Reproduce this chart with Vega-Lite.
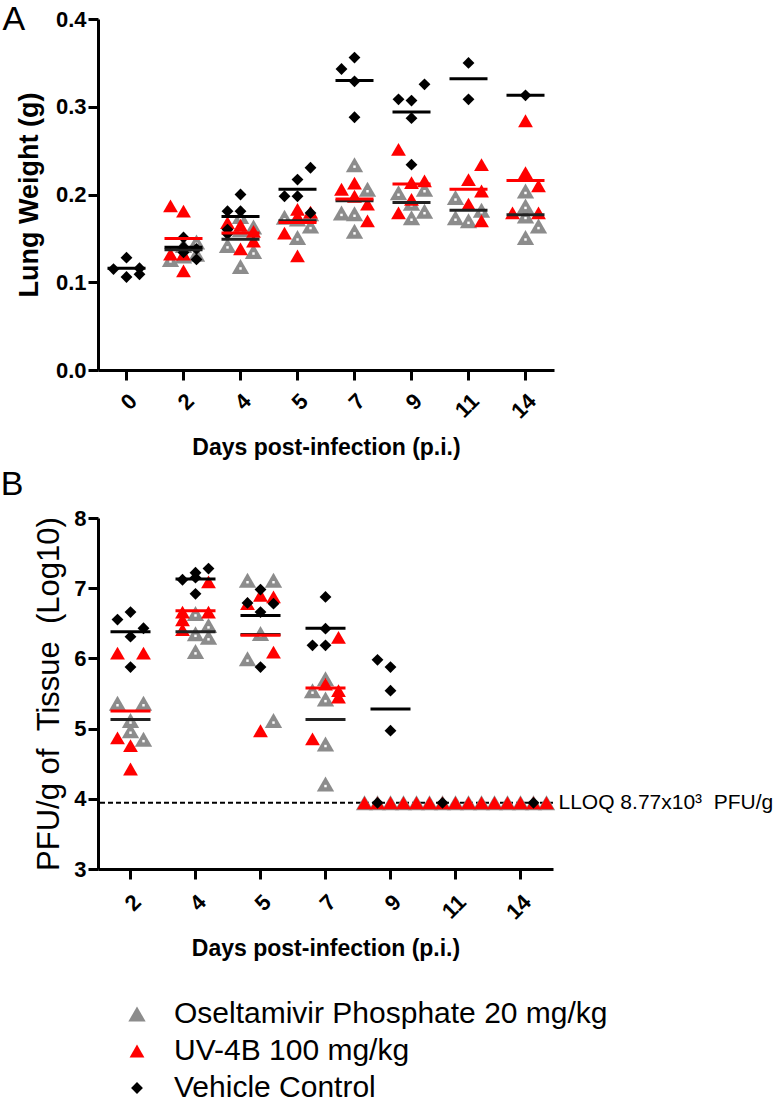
{
  "$schema": "https://vega.github.io/schema/vega-lite/v6.json",
  "background": "white",
  "padding": {"left": 0, "top": 3, "right": 5, "bottom": 5},
  "spacing": 8,
  "resolve": {"scale": {"x": "independent", "y": "independent", "xOffset": "independent"}},
  "config": {
    "view": {"stroke": null},
    "font": "Liberation Sans",
    "axis": {
      "grid": false, "domainColor": "#000", "domainWidth": 3, "tickColor": "#000", "tickWidth": 3, "tickSize": 10,
      "labelColor": "#000", "labelFont": "Liberation Sans", "labelFontSize": 22, "labelFontWeight": "bold", "labelPadding": 2,
      "titleFont": "Liberation Sans", "titleFontSize": 23, "titleFontWeight": "bold", "titleColor": "#000"
    },
    "legend": {
      "orient": "none", "legendX": 24, "legendY": 980, "direction": "vertical",
      "labelFont": "Liberation Sans", "labelFontSize": 30, "labelColor": "#000", "labelOffset": 22,
      "rowPadding": 7, "symbolStrokeWidth": 0, "labelLimit": 700
    }
  },
  "datasets": {
    "lung": [
      {"day": "2", "group": "Oseltamivir Phosphate 20 mg/kg", "rep": 2, "value": 0.126},
      {"day": "2", "group": "Oseltamivir Phosphate 20 mg/kg", "rep": 3, "value": 0.130},
      {"day": "2", "group": "Oseltamivir Phosphate 20 mg/kg", "rep": 4, "value": 0.132},
      {"day": "2", "group": "Oseltamivir Phosphate 20 mg/kg", "rep": 3, "value": 0.142},
      {"day": "2", "group": "Oseltamivir Phosphate 20 mg/kg", "rep": 4, "value": 0.146},
      {"day": "4", "group": "Oseltamivir Phosphate 20 mg/kg", "rep": 2, "value": 0.142},
      {"day": "4", "group": "Oseltamivir Phosphate 20 mg/kg", "rep": 3, "value": 0.118},
      {"day": "4", "group": "Oseltamivir Phosphate 20 mg/kg", "rep": 4, "value": 0.135},
      {"day": "4", "group": "Oseltamivir Phosphate 20 mg/kg", "rep": 4, "value": 0.163},
      {"day": "4", "group": "Oseltamivir Phosphate 20 mg/kg", "rep": 3, "value": 0.175},
      {"day": "4", "group": "Oseltamivir Phosphate 20 mg/kg", "rep": 3, "value": 0.160},
      {"day": "5", "group": "Oseltamivir Phosphate 20 mg/kg", "rep": 2, "value": 0.174},
      {"day": "5", "group": "Oseltamivir Phosphate 20 mg/kg", "rep": 3, "value": 0.151},
      {"day": "5", "group": "Oseltamivir Phosphate 20 mg/kg", "rep": 4, "value": 0.164},
      {"day": "5", "group": "Oseltamivir Phosphate 20 mg/kg", "rep": 3, "value": 0.172},
      {"day": "5", "group": "Oseltamivir Phosphate 20 mg/kg", "rep": 4, "value": 0.178},
      {"day": "7", "group": "Oseltamivir Phosphate 20 mg/kg", "rep": 3, "value": 0.234},
      {"day": "7", "group": "Oseltamivir Phosphate 20 mg/kg", "rep": 4, "value": 0.206},
      {"day": "7", "group": "Oseltamivir Phosphate 20 mg/kg", "rep": 2, "value": 0.179},
      {"day": "7", "group": "Oseltamivir Phosphate 20 mg/kg", "rep": 3, "value": 0.178},
      {"day": "7", "group": "Oseltamivir Phosphate 20 mg/kg", "rep": 3, "value": 0.158},
      {"day": "9", "group": "Oseltamivir Phosphate 20 mg/kg", "rep": 2, "value": 0.202},
      {"day": "9", "group": "Oseltamivir Phosphate 20 mg/kg", "rep": 4, "value": 0.206},
      {"day": "9", "group": "Oseltamivir Phosphate 20 mg/kg", "rep": 3, "value": 0.1735},
      {"day": "9", "group": "Oseltamivir Phosphate 20 mg/kg", "rep": 4, "value": 0.181},
      {"day": "9", "group": "Oseltamivir Phosphate 20 mg/kg", "rep": 3, "value": 0.190},
      {"day": "11", "group": "Oseltamivir Phosphate 20 mg/kg", "rep": 2, "value": 0.1965},
      {"day": "11", "group": "Oseltamivir Phosphate 20 mg/kg", "rep": 2, "value": 0.1735},
      {"day": "11", "group": "Oseltamivir Phosphate 20 mg/kg", "rep": 3, "value": 0.170},
      {"day": "11", "group": "Oseltamivir Phosphate 20 mg/kg", "rep": 4, "value": 0.182},
      {"day": "14", "group": "Oseltamivir Phosphate 20 mg/kg", "rep": 3, "value": 0.204},
      {"day": "14", "group": "Oseltamivir Phosphate 20 mg/kg", "rep": 3, "value": 0.187},
      {"day": "14", "group": "Oseltamivir Phosphate 20 mg/kg", "rep": 3, "value": 0.1755},
      {"day": "14", "group": "Oseltamivir Phosphate 20 mg/kg", "rep": 4, "value": 0.164},
      {"day": "14", "group": "Oseltamivir Phosphate 20 mg/kg", "rep": 3, "value": 0.151},
      {"day": "2", "group": "UV-4B 100 mg/kg", "rep": 2, "value": 0.187},
      {"day": "2", "group": "UV-4B 100 mg/kg", "rep": 3, "value": 0.181},
      {"day": "2", "group": "UV-4B 100 mg/kg", "rep": 2, "value": 0.132},
      {"day": "2", "group": "UV-4B 100 mg/kg", "rep": 3, "value": 0.113},
      {"day": "2", "group": "UV-4B 100 mg/kg", "rep": 3, "value": 0.132},
      {"day": "4", "group": "UV-4B 100 mg/kg", "rep": 2, "value": 0.168},
      {"day": "4", "group": "UV-4B 100 mg/kg", "rep": 4, "value": 0.158},
      {"day": "4", "group": "UV-4B 100 mg/kg", "rep": 3, "value": 0.138},
      {"day": "4", "group": "UV-4B 100 mg/kg", "rep": 4, "value": 0.147},
      {"day": "4", "group": "UV-4B 100 mg/kg", "rep": 3, "value": 0.165},
      {"day": "5", "group": "UV-4B 100 mg/kg", "rep": 3, "value": 0.183},
      {"day": "5", "group": "UV-4B 100 mg/kg", "rep": 4, "value": 0.180},
      {"day": "5", "group": "UV-4B 100 mg/kg", "rep": 3, "value": 0.175},
      {"day": "5", "group": "UV-4B 100 mg/kg", "rep": 2, "value": 0.156},
      {"day": "5", "group": "UV-4B 100 mg/kg", "rep": 3, "value": 0.130},
      {"day": "7", "group": "UV-4B 100 mg/kg", "rep": 2, "value": 0.206},
      {"day": "7", "group": "UV-4B 100 mg/kg", "rep": 3, "value": 0.213},
      {"day": "7", "group": "UV-4B 100 mg/kg", "rep": 3, "value": 0.198},
      {"day": "7", "group": "UV-4B 100 mg/kg", "rep": 4, "value": 0.189},
      {"day": "7", "group": "UV-4B 100 mg/kg", "rep": 4, "value": 0.170},
      {"day": "9", "group": "UV-4B 100 mg/kg", "rep": 2, "value": 0.2515},
      {"day": "9", "group": "UV-4B 100 mg/kg", "rep": 3, "value": 0.2135},
      {"day": "9", "group": "UV-4B 100 mg/kg", "rep": 4, "value": 0.2155},
      {"day": "9", "group": "UV-4B 100 mg/kg", "rep": 3, "value": 0.1945},
      {"day": "9", "group": "UV-4B 100 mg/kg", "rep": 2, "value": 0.179},
      {"day": "11", "group": "UV-4B 100 mg/kg", "rep": 4, "value": 0.234},
      {"day": "11", "group": "UV-4B 100 mg/kg", "rep": 3, "value": 0.217},
      {"day": "11", "group": "UV-4B 100 mg/kg", "rep": 4, "value": 0.204},
      {"day": "11", "group": "UV-4B 100 mg/kg", "rep": 3, "value": 0.189},
      {"day": "11", "group": "UV-4B 100 mg/kg", "rep": 4, "value": 0.170},
      {"day": "14", "group": "UV-4B 100 mg/kg", "rep": 3, "value": 0.284},
      {"day": "14", "group": "UV-4B 100 mg/kg", "rep": 3, "value": 0.225},
      {"day": "14", "group": "UV-4B 100 mg/kg", "rep": 4, "value": 0.210},
      {"day": "14", "group": "UV-4B 100 mg/kg", "rep": 2, "value": 0.179},
      {"day": "14", "group": "UV-4B 100 mg/kg", "rep": 4, "value": 0.179},
      {"day": "0", "group": "Vehicle Control", "rep": 2, "value": 0.115},
      {"day": "0", "group": "Vehicle Control", "rep": 3, "value": 0.128},
      {"day": "0", "group": "Vehicle Control", "rep": 3, "value": 0.106},
      {"day": "0", "group": "Vehicle Control", "rep": 4, "value": 0.116},
      {"day": "0", "group": "Vehicle Control", "rep": 4, "value": 0.109},
      {"day": "2", "group": "Vehicle Control", "rep": 3, "value": 0.151},
      {"day": "2", "group": "Vehicle Control", "rep": 3, "value": 0.140},
      {"day": "2", "group": "Vehicle Control", "rep": 4, "value": 0.138},
      {"day": "2", "group": "Vehicle Control", "rep": 4, "value": 0.126},
      {"day": "2", "group": "Vehicle Control", "rep": 3, "value": 0.134},
      {"day": "4", "group": "Vehicle Control", "rep": 3, "value": 0.200},
      {"day": "4", "group": "Vehicle Control", "rep": 2, "value": 0.181},
      {"day": "4", "group": "Vehicle Control", "rep": 3, "value": 0.181},
      {"day": "4", "group": "Vehicle Control", "rep": 2, "value": 0.160},
      {"day": "4", "group": "Vehicle Control", "rep": 2, "value": 0.155},
      {"day": "5", "group": "Vehicle Control", "rep": 4, "value": 0.2305},
      {"day": "5", "group": "Vehicle Control", "rep": 3, "value": 0.217},
      {"day": "5", "group": "Vehicle Control", "rep": 2, "value": 0.198},
      {"day": "5", "group": "Vehicle Control", "rep": 3, "value": 0.198},
      {"day": "5", "group": "Vehicle Control", "rep": 4, "value": 0.179},
      {"day": "7", "group": "Vehicle Control", "rep": 2, "value": 0.343},
      {"day": "7", "group": "Vehicle Control", "rep": 3, "value": 0.356},
      {"day": "7", "group": "Vehicle Control", "rep": 3, "value": 0.329},
      {"day": "7", "group": "Vehicle Control", "rep": 3, "value": 0.288},
      {"day": "9", "group": "Vehicle Control", "rep": 2, "value": 0.3085},
      {"day": "9", "group": "Vehicle Control", "rep": 3, "value": 0.307},
      {"day": "9", "group": "Vehicle Control", "rep": 4, "value": 0.3255},
      {"day": "9", "group": "Vehicle Control", "rep": 3, "value": 0.287},
      {"day": "9", "group": "Vehicle Control", "rep": 3, "value": 0.234},
      {"day": "11", "group": "Vehicle Control", "rep": 3, "value": 0.350},
      {"day": "11", "group": "Vehicle Control", "rep": 3, "value": 0.3085},
      {"day": "14", "group": "Vehicle Control", "rep": 3, "value": 0.313}
    ],
    "lungMean": [
      {"day": "0", "group": "Vehicle Control", "value": 0.116},
      {"day": "2", "group": "Oseltamivir Phosphate 20 mg/kg", "value": 0.137},
      {"day": "2", "group": "UV-4B 100 mg/kg", "value": 0.150},
      {"day": "2", "group": "Vehicle Control", "value": 0.140},
      {"day": "4", "group": "Oseltamivir Phosphate 20 mg/kg", "value": 0.149},
      {"day": "4", "group": "UV-4B 100 mg/kg", "value": 0.156},
      {"day": "4", "group": "Vehicle Control", "value": 0.175},
      {"day": "5", "group": "Oseltamivir Phosphate 20 mg/kg", "value": 0.170},
      {"day": "5", "group": "UV-4B 100 mg/kg", "value": 0.168},
      {"day": "5", "group": "Vehicle Control", "value": 0.206},
      {"day": "7", "group": "Oseltamivir Phosphate 20 mg/kg", "value": 0.193},
      {"day": "7", "group": "UV-4B 100 mg/kg", "value": 0.195},
      {"day": "7", "group": "Vehicle Control", "value": 0.330},
      {"day": "9", "group": "Oseltamivir Phosphate 20 mg/kg", "value": 0.191},
      {"day": "9", "group": "UV-4B 100 mg/kg", "value": 0.212},
      {"day": "9", "group": "Vehicle Control", "value": 0.294},
      {"day": "11", "group": "Oseltamivir Phosphate 20 mg/kg", "value": 0.182},
      {"day": "11", "group": "UV-4B 100 mg/kg", "value": 0.206},
      {"day": "11", "group": "Vehicle Control", "value": 0.332},
      {"day": "14", "group": "Oseltamivir Phosphate 20 mg/kg", "value": 0.177},
      {"day": "14", "group": "UV-4B 100 mg/kg", "value": 0.216},
      {"day": "14", "group": "Vehicle Control", "value": 0.313}
    ],
    "pfu": [
      {"day": "2", "group": "Oseltamivir Phosphate 20 mg/kg", "rep": 2, "value": 5.361},
      {"day": "2", "group": "Oseltamivir Phosphate 20 mg/kg", "rep": 4, "value": 5.361},
      {"day": "2", "group": "Oseltamivir Phosphate 20 mg/kg", "rep": 3, "value": 5.114},
      {"day": "2", "group": "Oseltamivir Phosphate 20 mg/kg", "rep": 3, "value": 4.97},
      {"day": "2", "group": "Oseltamivir Phosphate 20 mg/kg", "rep": 4, "value": 4.85},
      {"day": "4", "group": "Oseltamivir Phosphate 20 mg/kg", "rep": 3, "value": 6.64},
      {"day": "4", "group": "Oseltamivir Phosphate 20 mg/kg", "rep": 4, "value": 6.47},
      {"day": "4", "group": "Oseltamivir Phosphate 20 mg/kg", "rep": 3, "value": 6.35},
      {"day": "4", "group": "Oseltamivir Phosphate 20 mg/kg", "rep": 4, "value": 6.30},
      {"day": "4", "group": "Oseltamivir Phosphate 20 mg/kg", "rep": 3, "value": 6.10},
      {"day": "5", "group": "Oseltamivir Phosphate 20 mg/kg", "rep": 2, "value": 7.114},
      {"day": "5", "group": "Oseltamivir Phosphate 20 mg/kg", "rep": 4, "value": 7.114},
      {"day": "5", "group": "Oseltamivir Phosphate 20 mg/kg", "rep": 3, "value": 6.353},
      {"day": "5", "group": "Oseltamivir Phosphate 20 mg/kg", "rep": 2, "value": 5.996},
      {"day": "5", "group": "Oseltamivir Phosphate 20 mg/kg", "rep": 4, "value": 5.114},
      {"day": "7", "group": "Oseltamivir Phosphate 20 mg/kg", "rep": 3, "value": 5.71},
      {"day": "7", "group": "Oseltamivir Phosphate 20 mg/kg", "rep": 2, "value": 5.54},
      {"day": "7", "group": "Oseltamivir Phosphate 20 mg/kg", "rep": 3, "value": 5.42},
      {"day": "7", "group": "Oseltamivir Phosphate 20 mg/kg", "rep": 3, "value": 4.78},
      {"day": "7", "group": "Oseltamivir Phosphate 20 mg/kg", "rep": 3, "value": 4.21},
      {"day": "9", "group": "Oseltamivir Phosphate 20 mg/kg", "rep": 1, "value": 3.943},
      {"day": "9", "group": "Oseltamivir Phosphate 20 mg/kg", "rep": 2, "value": 3.943},
      {"day": "9", "group": "Oseltamivir Phosphate 20 mg/kg", "rep": 3, "value": 3.943},
      {"day": "9", "group": "Oseltamivir Phosphate 20 mg/kg", "rep": 4, "value": 3.943},
      {"day": "9", "group": "Oseltamivir Phosphate 20 mg/kg", "rep": 5, "value": 3.943},
      {"day": "11", "group": "Oseltamivir Phosphate 20 mg/kg", "rep": 1, "value": 3.943},
      {"day": "11", "group": "Oseltamivir Phosphate 20 mg/kg", "rep": 2, "value": 3.943},
      {"day": "11", "group": "Oseltamivir Phosphate 20 mg/kg", "rep": 3, "value": 3.943},
      {"day": "11", "group": "Oseltamivir Phosphate 20 mg/kg", "rep": 4, "value": 3.943},
      {"day": "11", "group": "Oseltamivir Phosphate 20 mg/kg", "rep": 5, "value": 3.943},
      {"day": "14", "group": "Oseltamivir Phosphate 20 mg/kg", "rep": 1, "value": 3.943},
      {"day": "14", "group": "Oseltamivir Phosphate 20 mg/kg", "rep": 2, "value": 3.943},
      {"day": "14", "group": "Oseltamivir Phosphate 20 mg/kg", "rep": 3, "value": 3.943},
      {"day": "14", "group": "Oseltamivir Phosphate 20 mg/kg", "rep": 4, "value": 3.943},
      {"day": "14", "group": "Oseltamivir Phosphate 20 mg/kg", "rep": 5, "value": 3.943},
      {"day": "2", "group": "UV-4B 100 mg/kg", "rep": 2, "value": 6.076},
      {"day": "2", "group": "UV-4B 100 mg/kg", "rep": 4, "value": 6.076},
      {"day": "2", "group": "UV-4B 100 mg/kg", "rep": 2, "value": 4.867},
      {"day": "2", "group": "UV-4B 100 mg/kg", "rep": 3, "value": 4.757},
      {"day": "2", "group": "UV-4B 100 mg/kg", "rep": 3, "value": 4.424},
      {"day": "4", "group": "UV-4B 100 mg/kg", "rep": 4, "value": 7.09},
      {"day": "4", "group": "UV-4B 100 mg/kg", "rep": 2, "value": 6.66},
      {"day": "4", "group": "UV-4B 100 mg/kg", "rep": 4, "value": 6.66},
      {"day": "4", "group": "UV-4B 100 mg/kg", "rep": 2, "value": 6.55},
      {"day": "4", "group": "UV-4B 100 mg/kg", "rep": 2, "value": 6.41},
      {"day": "5", "group": "UV-4B 100 mg/kg", "rep": 3, "value": 6.90},
      {"day": "5", "group": "UV-4B 100 mg/kg", "rep": 4, "value": 6.876},
      {"day": "5", "group": "UV-4B 100 mg/kg", "rep": 2, "value": 6.78},
      {"day": "5", "group": "UV-4B 100 mg/kg", "rep": 4, "value": 6.09},
      {"day": "5", "group": "UV-4B 100 mg/kg", "rep": 3, "value": 4.97},
      {"day": "7", "group": "UV-4B 100 mg/kg", "rep": 4, "value": 6.30},
      {"day": "7", "group": "UV-4B 100 mg/kg", "rep": 3, "value": 5.633},
      {"day": "7", "group": "UV-4B 100 mg/kg", "rep": 4, "value": 5.54},
      {"day": "7", "group": "UV-4B 100 mg/kg", "rep": 4, "value": 5.45},
      {"day": "7", "group": "UV-4B 100 mg/kg", "rep": 2, "value": 4.853},
      {"day": "9", "group": "UV-4B 100 mg/kg", "rep": 1, "value": 3.943},
      {"day": "9", "group": "UV-4B 100 mg/kg", "rep": 2, "value": 3.943},
      {"day": "9", "group": "UV-4B 100 mg/kg", "rep": 3, "value": 3.943},
      {"day": "9", "group": "UV-4B 100 mg/kg", "rep": 4, "value": 3.943},
      {"day": "9", "group": "UV-4B 100 mg/kg", "rep": 5, "value": 3.943},
      {"day": "11", "group": "UV-4B 100 mg/kg", "rep": 1, "value": 3.943},
      {"day": "11", "group": "UV-4B 100 mg/kg", "rep": 2, "value": 3.943},
      {"day": "11", "group": "UV-4B 100 mg/kg", "rep": 3, "value": 3.943},
      {"day": "11", "group": "UV-4B 100 mg/kg", "rep": 4, "value": 3.943},
      {"day": "11", "group": "UV-4B 100 mg/kg", "rep": 5, "value": 3.943},
      {"day": "14", "group": "UV-4B 100 mg/kg", "rep": 1, "value": 3.943},
      {"day": "14", "group": "UV-4B 100 mg/kg", "rep": 2, "value": 3.943},
      {"day": "14", "group": "UV-4B 100 mg/kg", "rep": 3, "value": 3.943},
      {"day": "14", "group": "UV-4B 100 mg/kg", "rep": 4, "value": 3.943},
      {"day": "14", "group": "UV-4B 100 mg/kg", "rep": 5, "value": 3.943},
      {"day": "2", "group": "Vehicle Control", "rep": 2, "value": 6.553},
      {"day": "2", "group": "Vehicle Control", "rep": 3, "value": 6.66},
      {"day": "2", "group": "Vehicle Control", "rep": 4, "value": 6.43},
      {"day": "2", "group": "Vehicle Control", "rep": 3, "value": 6.31},
      {"day": "2", "group": "Vehicle Control", "rep": 3, "value": 5.876},
      {"day": "4", "group": "Vehicle Control", "rep": 2, "value": 7.12},
      {"day": "4", "group": "Vehicle Control", "rep": 3, "value": 7.15},
      {"day": "4", "group": "Vehicle Control", "rep": 3, "value": 7.22},
      {"day": "4", "group": "Vehicle Control", "rep": 4, "value": 7.28},
      {"day": "4", "group": "Vehicle Control", "rep": 3, "value": 6.92},
      {"day": "5", "group": "Vehicle Control", "rep": 3, "value": 6.98},
      {"day": "5", "group": "Vehicle Control", "rep": 2, "value": 6.79},
      {"day": "5", "group": "Vehicle Control", "rep": 4, "value": 6.78},
      {"day": "5", "group": "Vehicle Control", "rep": 3, "value": 6.66},
      {"day": "5", "group": "Vehicle Control", "rep": 3, "value": 5.876},
      {"day": "7", "group": "Vehicle Control", "rep": 3, "value": 6.876},
      {"day": "7", "group": "Vehicle Control", "rep": 3, "value": 6.424},
      {"day": "7", "group": "Vehicle Control", "rep": 2, "value": 6.186},
      {"day": "7", "group": "Vehicle Control", "rep": 3, "value": 6.186},
      {"day": "9", "group": "Vehicle Control", "rep": 2, "value": 5.98},
      {"day": "9", "group": "Vehicle Control", "rep": 3, "value": 5.876},
      {"day": "9", "group": "Vehicle Control", "rep": 3, "value": 5.54},
      {"day": "9", "group": "Vehicle Control", "rep": 3, "value": 4.97},
      {"day": "9", "group": "Vehicle Control", "rep": 2, "value": 3.943},
      {"day": "11", "group": "Vehicle Control", "rep": 2, "value": 3.943},
      {"day": "14", "group": "Vehicle Control", "rep": 4, "value": 3.943}
    ],
    "pfuMean": [
      {"day": "2", "group": "Oseltamivir Phosphate 20 mg/kg", "value": 5.13},
      {"day": "2", "group": "UV-4B 100 mg/kg", "value": 5.25},
      {"day": "2", "group": "Vehicle Control", "value": 6.38},
      {"day": "4", "group": "Oseltamivir Phosphate 20 mg/kg", "value": 6.38},
      {"day": "4", "group": "UV-4B 100 mg/kg", "value": 6.68},
      {"day": "4", "group": "Vehicle Control", "value": 7.13},
      {"day": "5", "group": "Oseltamivir Phosphate 20 mg/kg", "value": 6.34},
      {"day": "5", "group": "UV-4B 100 mg/kg", "value": 6.33},
      {"day": "5", "group": "Vehicle Control", "value": 6.61},
      {"day": "7", "group": "Oseltamivir Phosphate 20 mg/kg", "value": 5.13},
      {"day": "7", "group": "UV-4B 100 mg/kg", "value": 5.58},
      {"day": "7", "group": "Vehicle Control", "value": 6.43},
      {"day": "9", "group": "Vehicle Control", "value": 5.28}
    ],
    "lloq": [{"day": "14", "value": 3.943, "label": "LLOQ 8.77x10³\u00a0\u00a0PFU/g"}]
  },
  "vconcat": [
    {
      "title": {"text": "A", "anchor": "start", "frame": "bounds", "fontSize": 34, "fontWeight": "normal", "color": "#000", "offset": -29, "dx": -13},
      "width": 456,
      "height": 351,
      "encoding": {
        "x": {"field": "day", "type": "ordinal", "scale": {"type": "band", "domain": ["0", "2", "4", "5", "7", "9", "11", "14"], "paddingInner": 0, "paddingOuter": 0},
              "axis": {"labelAngle": -45, "labelPadding": 10, "title": "Days post-infection (p.i.)", "titlePadding": 14}},
        "y": {"field": "value", "type": "quantitative", "scale": {"domain": [0, 0.4], "nice": false},
              "axis": {"values": [0, 0.1, 0.2, 0.3, 0.4], "format": ".1f", "title": "Lung Weight (g)", "titleFontSize": 27, "titlePadding": 12}}
      },
      "layer": [
        {
          "data": {"name": "lung"},
          "transform": [{"filter": "datum.group === 'Oseltamivir Phosphate 20 mg/kg'"}],
          "mark": {"type": "point", "filled": true, "opacity": 1, "strokeWidth": 0},
          "encoding": {
            "xOffset": {"field": "rep", "type": "ordinal", "scale": {"type": "point", "domain": [1, 2, 3, 4, 5], "range": [2.5, 54.5], "padding": 0}},
            "color": {"field": "group", "type": "nominal", "scale": {"domain": ["Oseltamivir Phosphate 20 mg/kg", "UV-4B 100 mg/kg", "Vehicle Control"], "range": ["#8c8c8c", "#ff0000", "#000000"]}, "legend": {"title": null}},
            "shape": {"field": "group", "type": "nominal", "scale": {"domain": ["Oseltamivir Phosphate 20 mg/kg", "UV-4B 100 mg/kg", "Vehicle Control"], "range": ["triangle-up", "triangle-up", "diamond"]}, "legend": {"title": null}},
            "size": {"field": "group", "type": "nominal", "scale": {"domain": ["Oseltamivir Phosphate 20 mg/kg", "UV-4B 100 mg/kg", "Vehicle Control"], "range": [300, 140, 200]}, "legend": {"title": null}}
          }
        },
        {
          "data": {"name": "lung"},
          "transform": [{"filter": "datum.group === 'Oseltamivir Phosphate 20 mg/kg'"}],
          "mark": {"type": "square", "size": 6, "color": "#ffffff", "opacity": 1, "yOffset": 2},
          "encoding": {
            "xOffset": {"field": "rep", "type": "ordinal", "scale": {"type": "point", "domain": [1, 2, 3, 4, 5], "range": [2.5, 54.5], "padding": 0}}
          }
        },
        {
          "data": {"name": "lung"},
          "transform": [{"filter": "datum.group !== 'Oseltamivir Phosphate 20 mg/kg'"}],
          "mark": {"type": "point", "filled": true, "opacity": 1, "strokeWidth": 0},
          "encoding": {
            "xOffset": {"field": "rep", "type": "ordinal", "scale": {"type": "point", "domain": [1, 2, 3, 4, 5], "range": [2.5, 54.5], "padding": 0}},
            "color": {"field": "group", "type": "nominal", "scale": {"domain": ["Oseltamivir Phosphate 20 mg/kg", "UV-4B 100 mg/kg", "Vehicle Control"], "range": ["#8c8c8c", "#ff0000", "#000000"]}, "legend": {"title": null}},
            "shape": {"field": "group", "type": "nominal", "scale": {"domain": ["Oseltamivir Phosphate 20 mg/kg", "UV-4B 100 mg/kg", "Vehicle Control"], "range": ["triangle-up", "triangle-up", "diamond"]}, "legend": {"title": null}},
            "size": {"field": "group", "type": "nominal", "scale": {"domain": ["Oseltamivir Phosphate 20 mg/kg", "UV-4B 100 mg/kg", "Vehicle Control"], "range": [300, 140, 200]}, "legend": {"title": null}}
          }
        },
        {
          "data": {"name": "lungMean"},
          "mark": {"type": "tick", "thickness": 3, "size": 38, "opacity": 1},
          "encoding": {
            "fill": {"field": "group", "type": "nominal", "scale": {"domain": ["Oseltamivir Phosphate 20 mg/kg", "UV-4B 100 mg/kg", "Vehicle Control"], "range": ["#222222", "#ff0000", "#000000"]}, "legend": null}
          }
        }
      ]
    },
    {
      "title": {"text": "B", "anchor": "start", "frame": "bounds", "fontSize": 34, "fontWeight": "normal", "color": "#000", "offset": 5, "dx": -33},
      "width": 455,
      "height": 351,
      "encoding": {
        "x": {"field": "day", "type": "ordinal", "scale": {"type": "band", "domain": ["2", "4", "5", "7", "9", "11", "14"], "paddingInner": 0, "paddingOuter": 0},
              "axis": {"labelAngle": -45, "labelPadding": 12, "title": "Days post-infection (p.i.)", "titlePadding": 14}},
        "y": {"field": "value", "type": "quantitative", "scale": {"domain": [3, 8], "nice": false},
              "axis": {"values": [3, 4, 5, 6, 7, 8], "title": "PFU/g of \u00a0Tissue \u00a0(Log10)", "titleFontWeight": "normal", "titleFontSize": 31, "titlePadding": 8}}
      },
      "layer": [
        {
          "data": {"name": "lloq"},
          "mark": {"type": "rule", "strokeDash": [5, 3], "strokeWidth": 2, "color": "#000"},
          "encoding": {"x": null, "y": {"field": "value", "type": "quantitative"}}
        },
        {
          "data": {"name": "lloq"},
          "mark": {"type": "text", "align": "left", "baseline": "middle", "dx": 38, "fontSize": 21, "font": "Liberation Sans", "color": "#000"},
          "encoding": {"text": {"field": "label"}}
        },
        {
          "data": {"name": "pfu"},
          "transform": [{"filter": "datum.group === 'Oseltamivir Phosphate 20 mg/kg'"}],
          "mark": {"type": "point", "filled": true, "opacity": 1, "strokeWidth": 0},
          "encoding": {
            "xOffset": {"field": "rep", "type": "ordinal", "scale": {"type": "point", "domain": [1, 2, 3, 4, 5], "range": [6.5, 58.5], "padding": 0}},
            "color": {"field": "group", "type": "nominal", "scale": {"domain": ["Oseltamivir Phosphate 20 mg/kg", "UV-4B 100 mg/kg", "Vehicle Control"], "range": ["#8c8c8c", "#ff0000", "#000000"]}, "legend": {"title": null}},
            "shape": {"field": "group", "type": "nominal", "scale": {"domain": ["Oseltamivir Phosphate 20 mg/kg", "UV-4B 100 mg/kg", "Vehicle Control"], "range": ["triangle-up", "triangle-up", "diamond"]}, "legend": {"title": null}},
            "size": {"field": "group", "type": "nominal", "scale": {"domain": ["Oseltamivir Phosphate 20 mg/kg", "UV-4B 100 mg/kg", "Vehicle Control"], "range": [300, 140, 200]}, "legend": {"title": null}}
          }
        },
        {
          "data": {"name": "pfu"},
          "transform": [{"filter": "datum.group === 'Oseltamivir Phosphate 20 mg/kg'"}],
          "mark": {"type": "square", "size": 6, "color": "#ffffff", "opacity": 1, "yOffset": 2},
          "encoding": {
            "xOffset": {"field": "rep", "type": "ordinal", "scale": {"type": "point", "domain": [1, 2, 3, 4, 5], "range": [6.5, 58.5], "padding": 0}}
          }
        },
        {
          "data": {"name": "pfu"},
          "transform": [{"filter": "datum.group !== 'Oseltamivir Phosphate 20 mg/kg'"}],
          "mark": {"type": "point", "filled": true, "opacity": 1, "strokeWidth": 0},
          "encoding": {
            "xOffset": {"field": "rep", "type": "ordinal", "scale": {"type": "point", "domain": [1, 2, 3, 4, 5], "range": [6.5, 58.5], "padding": 0}},
            "color": {"field": "group", "type": "nominal", "scale": {"domain": ["Oseltamivir Phosphate 20 mg/kg", "UV-4B 100 mg/kg", "Vehicle Control"], "range": ["#8c8c8c", "#ff0000", "#000000"]}, "legend": {"title": null}},
            "shape": {"field": "group", "type": "nominal", "scale": {"domain": ["Oseltamivir Phosphate 20 mg/kg", "UV-4B 100 mg/kg", "Vehicle Control"], "range": ["triangle-up", "triangle-up", "diamond"]}, "legend": {"title": null}},
            "size": {"field": "group", "type": "nominal", "scale": {"domain": ["Oseltamivir Phosphate 20 mg/kg", "UV-4B 100 mg/kg", "Vehicle Control"], "range": [300, 140, 200]}, "legend": {"title": null}}
          }
        },
        {
          "data": {"name": "pfuMean"},
          "mark": {"type": "tick", "thickness": 3, "size": 40, "opacity": 1},
          "encoding": {
            "fill": {"field": "group", "type": "nominal", "scale": {"domain": ["Oseltamivir Phosphate 20 mg/kg", "UV-4B 100 mg/kg", "Vehicle Control"], "range": ["#222222", "#ff0000", "#000000"]}, "legend": null}
          }
        }
      ]
    }
  ]
}
